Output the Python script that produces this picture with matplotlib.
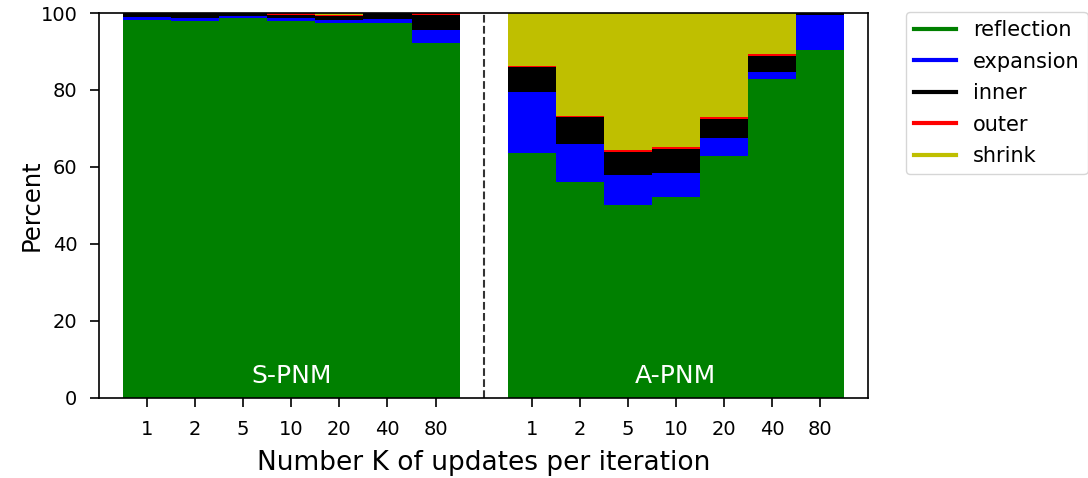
import matplotlib
matplotlib.use("Agg")
import matplotlib.pyplot as plt
from matplotlib.lines import Line2D
import numpy as np

# Share of simplex step types per iteration, in percent
k_labels = ["1", "2", "5", "10", "20", "40", "80"]
step_names = ["reflection", "expansion", "inner", "outer", "shrink"]
step_colors = ["green", "blue", "black", "red", "y"]

s_reflection = [98.2, 98.0, 98.6, 98.0, 97.3, 97.3, 92.1]
s_expansion = [0.7, 0.6, 0.5, 0.7, 1.0, 1.2, 3.6]
s_inner = [1.1, 1.4, 0.9, 0.9, 0.8, 1.5, 3.9]
s_outer = [0.0, 0.0, 0.0, 0.4, 0.3, 0.0, 0.4]
s_shrink = [0.0, 0.0, 0.0, 0.0, 0.6, 0.0, 0.0]

a_reflection = [63.6, 56.2, 50.1, 52.2, 62.9, 82.8, 90.5]
a_expansion = [15.9, 9.9, 7.7, 6.3, 4.7, 2.0, 9.1]
a_inner = [6.4, 6.8, 6.2, 6.3, 4.8, 4.1, 0.4]
a_outer = [0.4, 0.3, 0.3, 0.4, 0.7, 0.5, 0.0]
a_shrink = [13.7, 26.8, 35.7, 34.8, 26.9, 10.6, 0.0]

groups = [
    ("S-PNM", [s_reflection, s_expansion, s_inner, s_outer, s_shrink]),
    ("A-PNM", [a_reflection, a_expansion, a_inner, a_outer, a_shrink]),
]

fig = plt.figure(figsize=(10.88, 4.78), dpi=100)
ax = fig.add_axes([0.091, 0.1674, 0.707, 0.8054])

n = len(k_labels)
tick_pos = []
tick_lab = []
for gi, (name, series) in enumerate(groups):
    x = np.arange(n) + gi * (n + 1)
    bottom = np.zeros(n)
    for vals, col in zip(series, step_colors):
        vals = np.asarray(vals)
        ax.bar(x, vals, width=1.0, bottom=bottom, color=col, linewidth=0)
        bottom += vals
    ax.text(x.mean(), 4, name, color="white", fontsize=18,
            ha="center", va="baseline")
    tick_pos.extend(x)
    tick_lab.extend(k_labels)

ax.axvline(n, color="#333333", linestyle="--", linewidth=1.5)

ax.set_xlim(-1, 2 * n + 1)
ax.set_ylim(0, 100)
ax.set_xticks(tick_pos)
ax.set_xticklabels(tick_lab)
ax.set_yticks([0, 20, 40, 60, 80, 100])
ax.tick_params(labelsize=14, length=6.5, width=1.2, pad=9)
for sp in ax.spines.values():
    sp.set_linewidth(1.2)
ax.set_ylabel("Percent", fontsize=17.5)
ax.yaxis.set_label_coords(-0.072, 0.5)
ax.set_xlabel("Number K of updates per iteration", fontsize=19, labelpad=8)

handles = [Line2D([0], [0], color=c, lw=3) for c in step_colors]
fig.legend(handles, step_names, loc="upper left",
           bbox_to_anchor=(0.8327, 0.975), bbox_transform=fig.transFigure,
           borderaxespad=0, fontsize=15, labelspacing=0.55)

fig.savefig("out.png", dpi=100)
